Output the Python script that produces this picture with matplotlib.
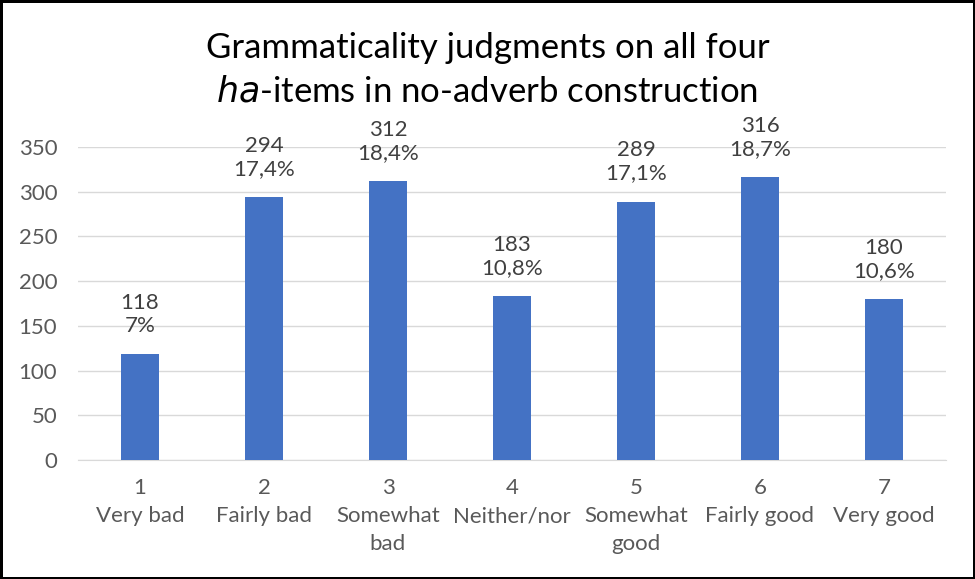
import matplotlib
matplotlib.use("Agg")
import matplotlib.pyplot as plt
import numpy as np

plt.rcParams["font.family"] = ["Lato", "DejaVu Sans"]

ratings = ["1", "2", "3", "4", "5", "6", "7"]
names = ["Very bad", "Fairly bad", "Somewhat\nbad", "Neither/nor",
         "Somewhat\ngood", "Fairly good", "Very good"]
counts = [118, 294, 312, 183, 289, 316, 180]
shares = ["7%", "17,4%", "18,4%", "10,8%", "17,1%", "18,7%", "10,6%"]

fig = plt.figure(figsize=(9.75, 5.79), dpi=100)
fig.patch.set_edgecolor("black")
fig.patch.set_linewidth(2.5)
ax = fig.add_axes([78 / 975, 1 - 460 / 579, 868 / 975, 313 / 579])

x = np.arange(len(counts))
ax.bar(x, counts, width=0.31, color="#4472C4", zorder=3)
for xi, c, s in zip(x, counts, shares):
    ax.annotate(f"{c}\n{s}", (xi, c), xytext=(0, 13), textcoords="offset points",
                ha="center", va="bottom", fontsize=16, color="#404040",
                linespacing=1.2)

ax.set_xlim(-0.5, len(counts) - 0.5)
ax.set_ylim(0, 350)
ax.set_yticks(range(0, 351, 50))
ax.yaxis.grid(True, color="#D9D9D9", lw=1, zorder=0)
ax.set_xticks(x)
ax.set_xticklabels([f"{r}\n{n}" for r, n in zip(ratings, names)], linespacing=1.5)
ax.tick_params(axis="both", length=0, labelsize=16, labelcolor="#595959")
ax.tick_params(axis="x", pad=13)
ax.tick_params(axis="y", pad=15)
for side in ["top", "right", "left"]:
    ax.spines[side].set_visible(False)
ax.spines["bottom"].set_color("#D9D9D9")

fig.text(0.5, 0.917, "Grammaticality judgments on all four", ha="center", va="center",
         fontsize=25, color="#000000")
fig.text(0.5, 0.842, r"$\it{ha}$-items in no-adverb construction", ha="center",
         va="center", fontsize=25, color="#000000")

fig.savefig("out.png", dpi=100, edgecolor=fig.get_edgecolor())
